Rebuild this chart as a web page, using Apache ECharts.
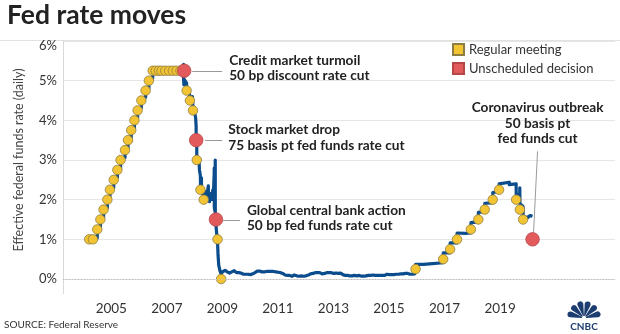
<!DOCTYPE html>
<html><head><meta charset="utf-8">
<script src="https://cdn.jsdelivr.net/npm/echarts@6/dist/echarts.min.js"></script>
<style>html,body{margin:0;padding:0;background:#fff}#c{width:620px;height:334px}</style>
</head><body><div id="c"></div>
<script>
const FONT = 'Lato, "Open Sans", sans-serif';

// ---- data ----
const xTickYears = [2005, 2007, 2009, 2011, 2013, 2015, 2017, 2019];
const yTicks = [0, 1, 2, 3, 4, 5, 6];

const rateDates = [
 '2004-06-01','2004-06-30','2004-07-01','2004-08-10','2004-08-11','2004-09-21','2004-09-22','2004-11-10','2004-11-11','2004-12-14','2004-12-15',
 '2005-02-02','2005-02-03','2005-03-22','2005-03-23','2005-05-03','2005-05-04','2005-06-30','2005-07-01','2005-08-09','2005-08-10','2005-09-20','2005-09-21','2005-11-01','2005-11-02','2005-12-13','2005-12-14',
 '2006-01-31','2006-02-01','2006-03-28','2006-03-29','2006-05-10','2006-05-11','2006-06-29','2006-06-30','2006-09-29','2006-10-02','2006-12-29',
 '2007-01-02','2007-03-30','2007-04-02','2007-06-29','2007-07-02','2007-08-08','2007-08-09','2007-08-10','2007-08-13','2007-08-20','2007-08-31','2007-09-17','2007-09-19','2007-10-15','2007-10-31','2007-11-01','2007-11-26','2007-12-03','2007-12-11','2007-12-12',
 '2008-01-02','2008-01-15','2008-01-21','2008-01-22','2008-01-29','2008-01-30','2008-02-15','2008-02-29','2008-03-05','2008-03-17','2008-03-19','2008-03-31','2008-04-01','2008-04-25','2008-04-30','2008-05-01','2008-05-30','2008-06-02','2008-06-30','2008-07-01','2008-07-15','2008-07-31','2008-08-01','2008-08-29','2008-09-02','2008-09-15','2008-09-16','2008-09-17','2008-09-26','2008-09-29','2008-09-30','2008-10-08','2008-10-20','2008-10-29','2008-11-05','2008-11-14','2008-12-01','2008-12-16',
 '2009-01-01','2009-01-20','2009-02-05','2009-02-20','2009-03-05','2009-03-20','2009-04-05','2009-04-20','2009-05-05','2009-05-20','2009-06-05','2009-06-20','2009-07-05','2009-07-20','2009-08-05','2009-08-20','2009-09-05','2009-09-20','2009-10-05','2009-10-20','2009-11-05','2009-11-20','2009-12-05','2009-12-20',
 '2010-01-05','2010-01-20','2010-02-05','2010-02-20','2010-03-05','2010-03-20','2010-04-05','2010-04-20','2010-05-05','2010-05-20','2010-06-05','2010-06-20','2010-07-05','2010-07-20','2010-08-05','2010-08-20','2010-09-05','2010-09-20','2010-10-05','2010-10-20','2010-11-05','2010-11-20','2010-12-05','2010-12-20',
 '2011-01-05','2011-01-20','2011-02-05','2011-02-20','2011-03-05','2011-03-20','2011-04-05','2011-04-20','2011-05-05','2011-05-20','2011-06-05','2011-06-20','2011-07-05','2011-07-20','2011-08-05','2011-08-20','2011-09-05','2011-09-20','2011-10-05','2011-10-20','2011-11-05','2011-11-20','2011-12-05','2011-12-20',
 '2012-01-05','2012-01-20','2012-02-05','2012-02-20','2012-03-05','2012-03-20','2012-04-05','2012-04-20','2012-05-05','2012-05-20','2012-06-05','2012-06-20','2012-07-05','2012-07-20','2012-08-05','2012-08-20','2012-09-05','2012-09-20','2012-10-05','2012-10-20','2012-11-05','2012-11-20','2012-12-05','2012-12-20',
 '2013-01-05','2013-01-20','2013-02-05','2013-02-20','2013-03-05','2013-03-20','2013-04-05','2013-04-20','2013-05-05','2013-05-20','2013-06-05','2013-06-20','2013-07-05','2013-07-20','2013-08-05','2013-08-20','2013-09-05','2013-09-20','2013-10-05','2013-10-20','2013-11-05','2013-11-20','2013-12-05','2013-12-20',
 '2014-01-05','2014-01-20','2014-02-05','2014-02-20','2014-03-05','2014-03-20','2014-04-05','2014-04-20','2014-05-05','2014-05-20','2014-06-05','2014-06-20','2014-07-05','2014-07-20','2014-08-05','2014-08-20','2014-09-05','2014-09-20','2014-10-05','2014-10-20','2014-11-05','2014-11-20','2014-12-05','2014-12-20',
 '2015-01-05','2015-01-20','2015-02-05','2015-02-20','2015-03-05','2015-03-20','2015-04-05','2015-04-20','2015-05-05','2015-05-20','2015-06-05','2015-06-20','2015-07-05','2015-07-20','2015-08-05','2015-08-20','2015-09-05','2015-09-20','2015-10-05','2015-10-20','2015-11-05','2015-11-20','2015-12-05','2015-12-16',
 '2015-12-17','2016-03-31','2016-04-01','2016-06-15','2016-06-30','2016-07-01','2016-12-14','2016-12-15','2017-03-15','2017-03-16','2017-06-14','2017-06-15','2017-09-29','2017-10-02','2017-12-13','2017-12-14',
 '2018-03-21','2018-03-22','2018-06-13','2018-06-14','2018-09-26','2018-09-27','2018-12-19','2018-12-20',
 '2019-05-01','2019-05-02','2019-07-31','2019-08-01','2019-09-16','2019-09-17','2019-09-18','2019-09-19','2019-10-30','2019-10-31','2019-12-31','2020-01-30','2020-03-02'
];
const rateValues = [
 1.00,1.03,1.25,1.28,1.50,1.55,1.75,1.79,2.00,2.07,2.25,
 2.30,2.50,2.56,2.75,2.79,3.00,3.06,3.25,3.29,3.50,3.55,3.75,3.80,4.00,4.08,4.25,
 4.32,4.50,4.58,4.75,4.80,5.00,5.06,5.25,5.28,5.24,5.30,
 5.24,5.28,5.25,5.30,5.26,5.30,5.41,5.02,4.90,5.03,5.00,4.94,4.80,4.72,4.62,4.55,4.48,4.60,4.30,4.25,
 4.20,4.05,3.85,3.50,3.40,3.05,3.00,2.95,2.75,2.60,2.35,2.55,2.25,2.20,2.05,2.00,2.20,1.98,2.35,2.02,1.95,2.15,2.00,2.25,2.00,2.65,2.80,1.80,1.70,3.00,1.55,1.50,1.10,0.95,0.60,0.35,0.20,0.12,
 0.18,0.14,0.22,0.20,0.18,0.20,0.15,0.14,0.18,0.20,0.21,0.18,0.16,0.14,0.16,0.15,0.15,0.13,0.12,0.12,0.12,0.11,0.12,0.13,
 0.11,0.12,0.13,0.12,0.16,0.17,0.20,0.19,0.20,0.21,0.18,0.19,0.18,0.20,0.19,0.18,0.19,0.20,0.19,0.18,0.19,0.20,0.18,0.17,
 0.17,0.16,0.16,0.15,0.14,0.13,0.10,0.10,0.09,0.10,0.09,0.08,0.07,0.08,0.10,0.09,0.08,0.09,0.07,0.08,0.08,0.09,0.07,0.08,
 0.08,0.09,0.10,0.11,0.13,0.14,0.14,0.15,0.16,0.15,0.16,0.17,0.16,0.15,0.13,0.14,0.14,0.15,0.16,0.15,0.16,0.17,0.16,0.15,
 0.14,0.15,0.15,0.14,0.14,0.15,0.15,0.13,0.11,0.10,0.09,0.10,0.09,0.08,0.08,0.09,0.08,0.09,0.09,0.08,0.08,0.09,0.09,0.08,
 0.07,0.08,0.07,0.08,0.08,0.09,0.09,0.10,0.09,0.10,0.10,0.09,0.09,0.08,0.09,0.10,0.09,0.10,0.09,0.08,0.09,0.10,0.12,0.13,
 0.11,0.12,0.11,0.12,0.11,0.12,0.12,0.13,0.12,0.13,0.13,0.14,0.13,0.14,0.14,0.15,0.14,0.15,0.12,0.13,0.12,0.13,0.13,0.14,
 0.37,0.37,0.36,0.38,0.39,0.40,0.41,0.66,0.66,0.91,0.91,1.16,1.15,1.16,1.16,1.42,
 1.44,1.68,1.70,1.91,1.92,2.18,2.20,2.40,
 2.44,2.38,2.40,2.13,2.14,2.30,2.25,1.90,1.83,1.58,1.55,1.60,1.58
];

const regularDates = [
 '2004-03-16','2004-05-04','2004-06-30','2004-08-10','2004-09-21','2004-11-10','2004-12-14',
 '2005-02-02','2005-03-22','2005-05-03','2005-06-30','2005-08-09','2005-09-20','2005-11-01','2005-12-13',
 '2006-01-31','2006-03-28','2006-05-10','2006-06-29','2006-08-08','2006-09-20','2006-10-25','2006-12-12',
 '2007-01-31','2007-03-21','2007-05-09','2007-06-28','2007-08-07','2007-09-18','2007-10-31','2007-12-11',
 '2008-01-30','2008-03-18','2008-04-30','2008-10-29','2008-12-16',
 '2015-12-16','2016-12-14','2017-03-15','2017-06-14','2017-12-13','2018-03-21','2018-06-13','2018-09-26','2018-12-19',
 '2019-07-31','2019-09-18','2019-10-30'
];
const regularValues = [
 1.00,1.00,1.25,1.50,1.75,2.00,2.25,
 2.50,2.75,3.00,3.25,3.50,3.75,4.00,4.25,
 4.50,4.75,5.00,5.25,5.25,5.25,5.25,5.25,
 5.25,5.25,5.25,5.25,5.25,4.75,4.50,4.25,
 3.00,2.25,2.00,1.00,0.00,
 0.25,0.50,0.75,1.00,1.25,1.50,1.75,2.00,2.25,
 2.00,1.75,1.50
];

const unscheduledDates = ['2007-08-17', '2008-01-22', '2008-10-08', '2020-03-03'];
const unscheduledValues = [5.25, 3.50, 1.50, 1.00];
const annotationTitles = ['Credit market turmoil', 'Stock market drop', 'Global central bank action', 'Coronavirus outbreak'];
const annotationDetails = ['50 bp discount rate cut', '75 basis pt fed funds rate cut', '50 bp fed funds rate cut', '50 basis pt\nfed funds cut'];

// ---- layout (offsets from the marked point, px) ----
const annLayout = [
  { lx1: 8, lx2: 38, tx: 45, ty: -18, align: 'left' },
  { lx1: 9, lx2: 26, tx: 32, ty: -18, align: 'left' },
  { lx1: 7, lx2: 24, tx: 31, ty: -17, align: 'left' },
  { lx1: 0, lx2: 0, tx: 5, ty: -139, align: 'center', diag: true }
];

// date string -> decimal year
function toYear(s) {
  const [y, m, d] = s.split('-').map(Number);
  const t = Date.UTC(y, m - 1, d), a = Date.UTC(y, 0, 1), b = Date.UTC(y + 1, 0, 1);
  return y + (t - a) / (b - a);
}
const pair = (ds, vs) => ds.map((d, i) => [toYear(d), vs[i]]);

const NAVY = '#0b4c8c';
const chart = echarts.init(document.getElementById('c'), null, { renderer: 'canvas' });

chart.setOption({
  animation: false,
  textStyle: { fontFamily: FONT },
  title: {
    text: 'Fed rate moves', left: 7, top: 2, padding: 0,
    textStyle: { fontSize: 26.5, fontWeight: 'bold', color: '#222', fontFamily: FONT }
  },
  legend: {
    orient: 'vertical', left: 452, top: 43, padding: 0, itemGap: 6,
    itemWidth: 11, itemHeight: 11, icon: 'rect',
    textStyle: { fontSize: 13, color: '#333', fontFamily: FONT },
    data: ['Regular meeting', 'Unscheduled decision']
  },
  grid: { left: 63, right: 5, top: 41, bottom: 55 },
  xAxis: {
    type: 'value',
    min: 2003.261, max: 2023.138,
    offset: 15,
    axisLine: { show: true, lineStyle: { color: '#d9d9d9', width: 1 } },
    axisTick: { show: false },
    splitLine: { show: false },
    axisLabel: {
      customValues: xTickYears,
      formatter: v => String(Math.round(v)),
      color: '#333', fontSize: 13.5, margin: 8, fontFamily: FONT
    }
  },
  yAxis: {
    type: 'value', min: 0, max: 6, interval: 1,
    name: 'Effective federal funds rate (daily)', nameLocation: 'middle', nameGap: 38,
    nameTextStyle: { fontSize: 12.5, color: '#444', fontFamily: FONT },
    axisLine: { show: false }, axisTick: { show: false },
    axisLabel: {
      color: '#333', fontSize: 13, margin: 6, fontFamily: FONT,
      formatter: v => v === 6 ? '{t|6%}' : v + '%',
      rich: { t: { padding: [10, 0, 0, 0], fontSize: 13, color: '#333', fontFamily: FONT } }
    },
    splitLine: { show: true, showMinLine: false, lineStyle: { color: '#e6e6e6', width: 1 } }
  },
  series: [
    {
      name: 'Effective federal funds rate', type: 'line', data: pair(rateDates, rateValues),
      showSymbol: false, symbol: 'none', z: 2,
      lineStyle: { color: NAVY, width: 3.2, join: 'round' },
      markLine: {
        silent: true, symbol: 'none', label: { show: false },
        lineStyle: { color: '#bdbdbd', type: [1, 2], width: 1 },
        data: [{ yAxis: 0 }]
      }
    },
    {
      name: 'Regular meeting', type: 'scatter', data: pair(regularDates, regularValues),
      symbolSize: 9.5, z: 3,
      itemStyle: { color: '#f2c433', borderColor: '#8e7d43', borderWidth: 0.8, opacity: 1 }
    },
    {
      name: 'Unscheduled decision', type: 'scatter', data: pair(unscheduledDates, unscheduledValues),
      symbolSize: 13.5, z: 4,
      itemStyle: { color: '#e25a5b', borderColor: '#b54747', borderWidth: 0.8, opacity: 1 }
    }
  ]
});

// annotations and decorations
const g = [];
g.push({ type: 'line', shape: { x1: 0, y1: 40.5, x2: 620, y2: 40.5 }, style: { stroke: '#e2e2e2', lineWidth: 1 }, silent: true });
g.push({ type: 'line', shape: { x1: 63.5, y1: 40, x2: 63.5, y2: 294 }, style: { stroke: '#d9d9d9', lineWidth: 1 }, silent: true });

unscheduledDates.forEach((d, i) => {
  const p = chart.convertToPixel({ seriesIndex: 2 }, [toYear(d), unscheduledValues[i]]);
  const L = annLayout[i];
  if (L.diag) {
    g.push({ type: 'line', shape: { x1: p[0] + 1, y1: p[1] - 7, x2: p[0] + 5, y2: p[1] - 88 }, style: { stroke: '#9a9a9a', lineWidth: 1 }, silent: true });
  } else {
    g.push({ type: 'line', shape: { x1: p[0] + L.lx1, y1: Math.round(p[1]) + 0.5, x2: p[0] + L.lx2, y2: Math.round(p[1]) + 0.5 }, style: { stroke: '#9a9a9a', lineWidth: 1 }, silent: true });
  }
  g.push({
    type: 'text', x: p[0] + L.tx, y: p[1] + L.ty, silent: true,
    style: {
      text: annotationTitles[i] + '\n' + annotationDetails[i],
      font: 'bold 13.7px ' + FONT, fill: '#222', align: L.align, verticalAlign: 'top', lineHeight: 15.5
    }
  });
});

g.push({ type: 'text', x: 4, y: 325, style: { text: 'SOURCE: Federal Reserve', font: '10px ' + FONT, fill: '#333', verticalAlign: 'middle' }, silent: true });

// CNBC peacock logo
const cx = 584, cy = 318, LOGO = '#1b3d70';
for (let k = 0; k < 6; k++) {
  const a0 = Math.PI + k * Math.PI / 6 + 0.05, a1 = Math.PI + (k + 1) * Math.PI / 6 - 0.05;
  g.push({ type: 'sector', shape: { cx: cx, cy: cy, r0: 2, r: 17, startAngle: a0, endAngle: a1, cornerRadius: 3 }, style: { fill: LOGO }, silent: true });
}
g.push({ type: 'text', x: cx, y: 327, style: { text: 'CNBC', font: 'bold 10px ' + FONT, fill: LOGO, align: 'center', verticalAlign: 'middle' }, silent: true });

chart.setOption({ graphic: g });
</script>
</body></html>
